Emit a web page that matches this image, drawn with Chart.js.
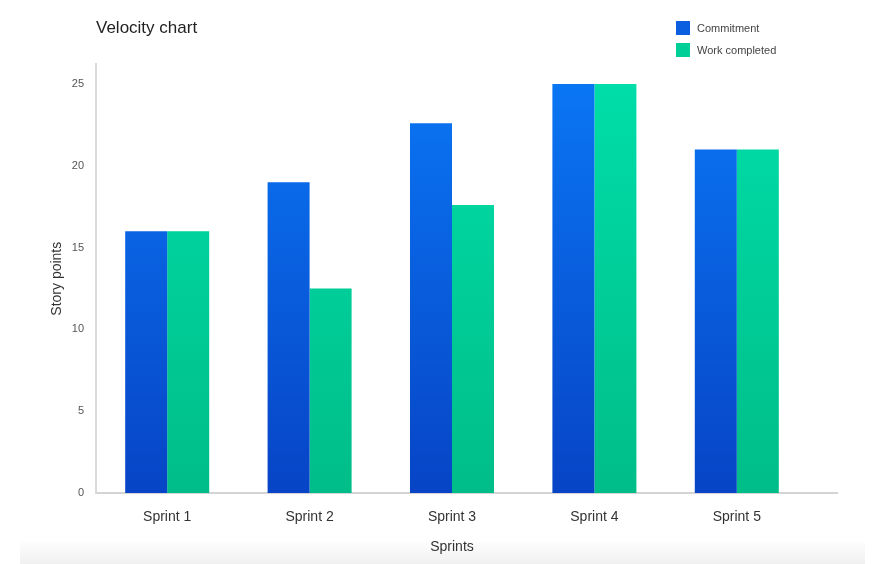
<!DOCTYPE html>
<html>
<head>
<meta charset="utf-8">
<script src="https://cdn.jsdelivr.net/npm/chart.js@4/dist/chart.umd.min.js"></script>
<style>
  html, body { margin: 0; padding: 0; background: #fff; }
  #wrap { position: relative; width: 882px; height: 564px; overflow: hidden; }
  #shade { position: absolute; left: 20px; right: 17px; bottom: 0; height: 22px;
    background: linear-gradient(#fdfdfd, #f0f0f0); }
  #velocity { position: absolute; left: 0; top: 0; }
  #legend { position: absolute; left: 676px; top: 21px; font: 11px "Liberation Sans", Arial, sans-serif; color: #444; }
  #legend div { height: 14px; line-height: 14px; margin-bottom: 8px; }
  #legend span { display: inline-block; width: 14px; height: 14px; vertical-align: top; margin-right: 7px; }
</style>
</head>
<body>
<div id="wrap">
  <div id="shade"></div>
  <canvas id="velocity" width="882" height="564"></canvas>
  <div id="legend"></div>
</div>
<script>
var sprintNames = ['Sprint 1', 'Sprint 2', 'Sprint 3', 'Sprint 4', 'Sprint 5'];
var commitment = [16, 19, 22.6, 25, 21];
var workCompleted = [16, 12.5, 17.6, 25, 21];
var yTicks = [0, 5, 10, 15, 20, 25];

var fontFamily = '"Liberation Sans", Arial, sans-serif';
var ctx = document.getElementById('velocity').getContext('2d');

// vertical gradient over the chart area
function makeGradient(context, top, bottom) {
  var area = context.chart.chartArea;
  if (!area) return top;
  var g = context.chart.ctx.createLinearGradient(0, area.top, 0, area.bottom);
  g.addColorStop(0, top);
  g.addColorStop(1, bottom);
  return g;
}

// x axis line runs a bit past the last category
var axisTail = {
  id: 'axisTail',
  afterDraw: function(chart) {
    var a = chart.chartArea;
    var c = chart.ctx;
    c.save();
    c.strokeStyle = '#d4d4d4';
    c.lineWidth = 2;
    c.beginPath();
    c.moveTo(a.right - 1, a.bottom);
    c.lineTo(a.right + 30, a.bottom);
    c.stroke();
    c.restore();
  }
};

var velocityChart = new Chart(ctx, {
  type: 'bar',
  data: {
    labels: sprintNames,
    datasets: [{
      label: 'Commitment',
      data: commitment,
      legendColor: '#0a5ee0',
      backgroundColor: function(c) { return makeGradient(c, '#0a78f5', '#0744c6'); },
      categoryPercentage: 0.59,
      barPercentage: 1
    }, {
      label: 'Work completed',
      data: workCompleted,
      legendColor: '#00d098',
      backgroundColor: function(c) { return makeGradient(c, '#00dfaa', '#00bd88'); },
      categoryPercentage: 0.59,
      barPercentage: 1
    }]
  },
  options: {
    responsive: false,
    animation: false,
    layout: { padding: { left: 0, right: 74, top: 0, bottom: 0 } },
    plugins: {
      legend: { display: false },
      tooltip: { enabled: false },
      title: {
        display: true,
        text: 'Velocity chart',
        align: 'start',
        fullSize: false,
        color: '#222',
        font: { family: fontFamily, size: 17, weight: 'normal' },
        padding: { top: 18, bottom: 26 }
      }
    },
    scales: {
      x: {
        grid: { display: false, drawTicks: false },
        border: { display: true, color: '#d4d4d4', width: 2 },
        ticks: { color: '#333', padding: 16, font: { family: fontFamily, size: 14 } },
        title: { display: true, text: 'Sprints', color: '#333', font: { family: fontFamily, size: 14 }, padding: { top: 0, bottom: 8 } },
        afterFit: function(scale) { scale.height = 71; }
      },
      y: {
        min: 0,
        max: 26.2,
        grid: { display: false, drawTicks: false },
        border: { display: true, color: '#dadada', width: 2 },
        ticks: { stepSize: 5, color: '#555', padding: 12, font: { family: fontFamily, size: 11 } },
        afterBuildTicks: function(scale) {
          scale.ticks = yTicks.map(function(v) { return { value: v }; });
        },
        title: { display: true, text: 'Story points', color: '#333', font: { family: fontFamily, size: 14 }, padding: { top: 49, bottom: 0 } },
        afterFit: function(scale) { scale.width = 96; }
      }
    }
  },
  plugins: [axisTail]
});

// legend built from the datasets
var legendBox = document.getElementById('legend');
velocityChart.data.datasets.forEach(function(ds) {
  var row = document.createElement('div');
  var sw = document.createElement('span');
  sw.style.background = ds.legendColor;
  row.appendChild(sw);
  row.appendChild(document.createTextNode(ds.label));
  legendBox.appendChild(row);
});
</script>
</body>
</html>
